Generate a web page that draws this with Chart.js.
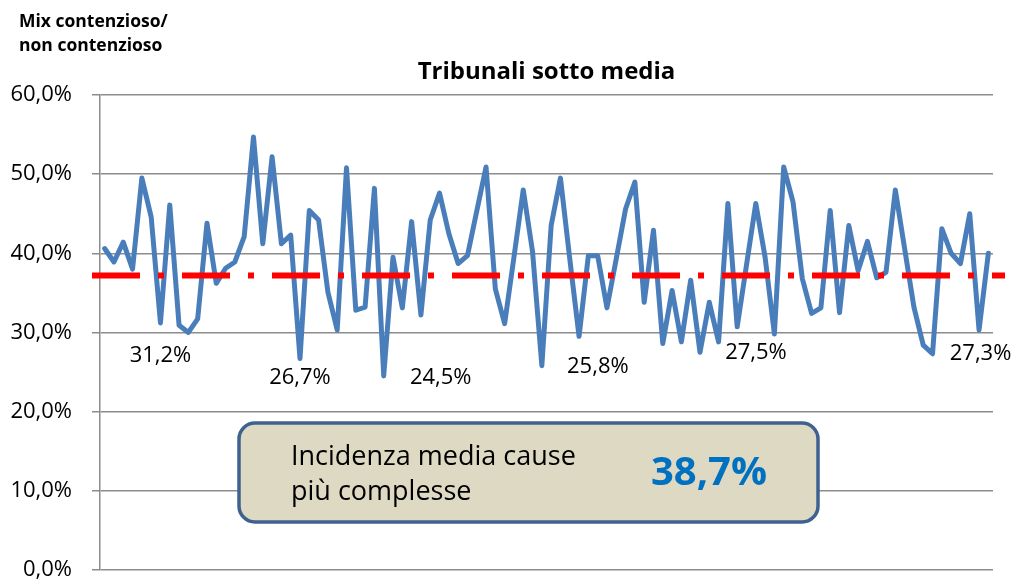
<!DOCTYPE html>
<html>
<head>
<meta charset="utf-8">
<script src="https://cdn.jsdelivr.net/npm/chart.js@4"></script>
<style>
  body { margin: 0; background: #fff; overflow: hidden; }
  #wrap { width: 1015px; height: 603px; }
</style>
</head>
<body>
<div id="wrap"><canvas id="myChart"></canvas></div>
<script>
const values = [
  40.6, 38.9, 41.4, 38.0, 49.5, 44.6, 31.2, 46.1, 30.9, 30.0,
  31.7, 43.8, 36.2, 38.1, 38.9, 42.1, 54.7, 41.2, 52.2, 41.2,
  42.3, 26.7, 45.4, 44.2, 35.1, 30.3, 50.8, 32.8, 33.2, 48.2,
  24.5, 39.5, 33.1, 44.0, 32.2, 44.2, 47.6, 42.5, 38.7, 39.7,
  45.3, 50.9, 35.5, 31.1, 39.5, 48.0, 40.2, 25.8, 43.5, 49.5,
  39.3, 29.5, 39.7, 39.7, 33.1, 39.3, 45.6, 49.0, 33.8, 42.9,
  28.6, 35.3, 28.8, 36.6, 27.5, 33.8, 28.8, 46.3, 30.7, 38.5,
  46.3, 39.5, 29.8, 50.9, 46.5, 36.8, 32.4, 33.1, 45.4, 32.5,
  43.5, 37.8, 41.5, 36.9, 37.6, 48.0, 40.6, 33.2, 28.4, 27.3,
  43.1, 40.0, 38.7, 45.0, 30.3, 40.0
]
const categories = values.map((v, i) => String(i + 1))
const tickValues = [0, 10, 20, 30, 40, 50, 60]
const thresholdLine = 37.2
const mediaText = '38,7%'

// punti minimi annotati: indice e testo
const lowIndex = [6, 21, 30, 47, 64, 89]
const lowText = ['31,2%', '26,7%', '24,5%', '25,8%', '27,5%', '27,3%']
// spostamento dell'etichetta rispetto al punto
const lowShift = [[0, 33], [0, 19], [57, 2], [56, 1], [56, 1], [48, 0]]

const FONT = "'Open Sans', sans-serif"
const pct = v => v.toFixed(1).replace('.', ',') + '%'

const extras = {
  id: 'extras',
  afterDatasetsDraw(chart) {
    const c = chart.ctx
    const area = chart.chartArea
    const x = chart.scales.x
    const y = chart.scales.y

    // linea rossa tratto-punto
    c.save()
    c.strokeStyle = '#ff0000'
    c.lineWidth = 6
    c.setLineDash([48, 18, 6, 18])
    c.beginPath()
    const yy = y.getPixelForValue(thresholdLine)
    c.moveTo(area.left - 8, yy)
    c.lineTo(area.right + 12, yy)
    c.stroke()
    c.restore()

    // etichette dei minimi
    c.save()
    c.fillStyle = '#000'
    c.font = '22px ' + FONT
    c.textAlign = 'center'
    c.textBaseline = 'middle'
    lowIndex.forEach((idx, k) => {
      const px = x.getPixelForValue(idx)
      const py = y.getPixelForValue(values[idx])
      c.fillText(lowText[k], px + lowShift[k][0], py + lowShift[k][1])
    })
    c.restore()

    // titoli
    c.save()
    c.fillStyle = '#000'
    c.textBaseline = 'middle'
    c.font = 'bold 24px ' + FONT
    c.textAlign = 'center'
    c.fillText('Tribunali sotto media', (area.left + area.right) / 2, 72)
    c.font = 'bold 17.5px ' + FONT
    c.textAlign = 'left'
    c.fillText('Mix contenzioso/', 19, 22)
    c.fillText('non contenzioso', 19, 46)
    c.restore()

    // riquadro
    c.save()
    const bx = 239, by = 423, bw = 579, bh = 99
    c.beginPath()
    c.roundRect(bx, by, bw, bh, 16)
    c.fillStyle = '#ddd9c3'
    c.fill()
    c.lineWidth = 3.5
    c.strokeStyle = '#3f6190'
    c.stroke()
    c.fillStyle = '#000'
    c.font = '27px ' + FONT
    c.textAlign = 'left'
    c.textBaseline = 'alphabetic'
    c.fillText('Incidenza media cause', 291, 465)
    c.fillText('più complesse', 291, 500)
    c.fillStyle = '#0070c0'
    c.font = 'bold 40px ' + FONT
    c.textBaseline = 'middle'
    c.textAlign = 'center'
    c.fillText(mediaText, 709, 474)
    c.restore()
  }
}

const ctx = document.getElementById('myChart')

const chart = new Chart(ctx, {
  type: 'line',
  data: {
    labels: categories,
    datasets: [{
      data: values,
      borderColor: '#4a7ebb',
      borderWidth: 5,
      borderJoinStyle: 'round',
      borderCapStyle: 'round',
      pointRadius: 0,
      tension: 0,
      fill: false
    }]
  },
  options: {
    responsive: true,
    maintainAspectRatio: false,
    animation: false,
    layout: { padding: { top: 95, right: 22, bottom: 0, left: 0 } },
    plugins: {
      legend: { display: false },
      tooltip: { enabled: false }
    },
    scales: {
      x: {
        display: false,
        offset: true
      },
      y: {
        min: 0,
        max: 60,
        afterFit(scale) { scale.width = 100 },
        afterBuildTicks(scale) { scale.ticks = tickValues.map(v => ({ value: v })) },
        ticks: {
          color: '#000',
          padding: 20,
          font: { family: FONT, size: 22 },
          callback: v => pct(v)
        },
        grid: {
          color: '#8c8c8c',
          lineWidth: 1.5,
          tickLength: 8
        },
        border: { color: '#8c8c8c', width: 1.5 }
      }
    }
  },
  plugins: [extras]
})
</script>
</body>
</html>
